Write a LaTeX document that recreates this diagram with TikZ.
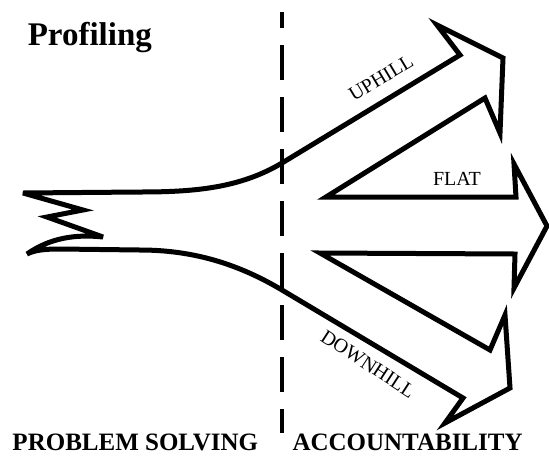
\documentclass[tikz,border=0pt]{standalone}
\usepackage{fontspec}
\setmainfont{Liberation Serif}
\begin{document}
\begin{tikzpicture}[x=1pt,y=-1pt,line width=5pt,line join=miter,miter limit=5,
    font=\fontsize{20}{20}\selectfont]
  \useasboundingbox (0,0) rectangle (549,456);

  % torn tail on the left
  \coordinate (T1) at (23,193);
  \coordinate (T2) at (83,210);
  \coordinate (T3) at (47,217);
  \coordinate (T4) at (103,237);
  \coordinate (T5) at (27,254);

  % uphill arrow
  \coordinate (U1) at (460,55);
  \coordinate (U2) at (437,25);
  \coordinate (U3) at (503,58);
  \coordinate (U4) at (500,133);
  \coordinate (U5) at (485,98);

  % flat arrow
  \coordinate (F1) at (326,197);
  \coordinate (F2) at (516,197);
  \coordinate (F3) at (514,164);
  \coordinate (F4) at (547,226);
  \coordinate (F5) at (514,288);
  \coordinate (F6) at (515,254);
  \coordinate (F7) at (320,253);

  % downhill arrow
  \coordinate (D1) at (490,350);
  \coordinate (D2) at (505,315);
  \coordinate (D3) at (510,388);
  \coordinate (D4) at (445,423);
  \coordinate (D5) at (463,398);

  \draw (T1) -- (140,192) .. controls (195,192) and (240,188) .. (282,163)
    -- (U1) -- (U2) -- (U3) -- (U4) -- (U5)
    -- (F1) -- (F2) -- (F3) -- (F4) -- (F5) -- (F6) -- (F7)
    -- (D1) -- (D2) -- (D3) -- (D4) -- (D5)
    -- (282,290) .. controls (240,265) and (195,250) .. (140,250)
    -- (60,249) .. controls (45,249) and (35,250) .. (T5)
    .. controls (50,238) and (75,234) .. (T4) -- (T3) -- (T2) -- cycle;

  \coordinate (S1) at (282,12);
  \coordinate (S2) at (282,433);
  \draw[line width=4pt,dash pattern=on 35pt off 17pt,dash phase=19pt] (S1) -- (S2);

  \node[anchor=base west,font=\bfseries\fontsize{33}{33}\selectfont] (title) at (22,45) {Profiling};
  \node[rotate=31] (up) at (381,78) {UPHILL};
  \node (flat) at (457,179) {FLAT};
  \node[rotate=-33] (down) at (368,364) {DOWNHILL};
  \node[anchor=base west,inner xsep=0pt,font=\bfseries\fontsize{25}{25}\selectfont] (ps) at (10,450) {PROBLEM SOLVING};
  \node[anchor=base west,inner xsep=0pt,font=\bfseries\fontsize{25}{25}\selectfont] (acc) at (290,450) {ACCOUNTABILITY};
\end{tikzpicture}
\end{document}
